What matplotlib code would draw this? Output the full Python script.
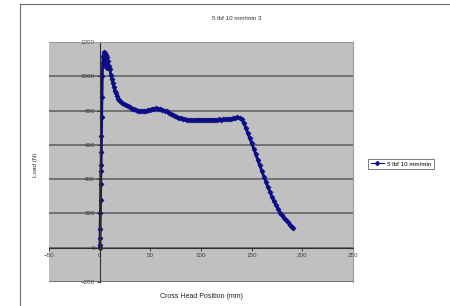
import matplotlib
matplotlib.use("Agg")
import matplotlib.pyplot as plt
from matplotlib.lines import Line2D

# ---------------------------------------------------------------
# Data
# ---------------------------------------------------------------
position_mm = [
    0, 0.2, 0.4, 0.5, 0.7, 0.9, 1.0, 1.2, 1.4, 1.6, 1.8, 2.0, 2.3, 2.6, 3.0,
    3.5, 4, 4.5, 5, 5.5, 6, 6.5, 7, 7.5, 8, 9, 10, 11, 12,
    13, 14, 15, 16, 17, 18, 19, 20, 22, 24, 26, 28, 30, 32, 34, 36, 38, 40,
    42, 44, 46, 48, 50, 52, 54, 56, 58, 60, 62, 64, 66, 68, 70, 72, 74, 76,
    78, 80, 82, 84, 86, 88, 90, 92, 94, 96, 98, 100, 102, 104, 106, 108, 110,
    112, 114, 116, 118, 120, 122, 124, 126, 128, 130, 132, 134, 136, 138, 140,
    142, 144, 146, 148, 150, 152, 154, 156, 158, 160, 162, 164, 166, 168, 170,
    172, 174, 176, 178, 180, 182, 184, 186, 188, 190, 191,
]
load_n = [
    0, 15, 55, 110, 200, 280, 370, 450, 480, 560, 650, 760, 880, 1000, 1080,
    1120, 1140, 1100, 1135, 1060, 1125, 1080, 1110, 1050, 1090, 1060, 1040, 1010, 985,
    960, 940, 915, 900, 885, 870, 862, 855, 845, 838, 830, 825, 818, 812, 808, 805, 800, 798,
    797, 798, 800, 803, 806, 810, 812, 813, 812, 810, 806, 800, 795, 788, 781, 774, 768, 762,
    758, 754, 751, 748, 746, 745, 744, 744, 745, 745, 746, 745, 746, 745, 746, 745, 746,
    747, 746, 747, 748, 747, 748, 749, 750, 750, 752, 755, 757, 760, 758, 750,
    730, 700, 670, 640, 610, 578, 545, 512, 480, 448, 415, 385, 355, 325, 298,
    272, 248, 225, 205, 188, 173, 160, 148, 135, 122, 115,
]
series_name = "5 lbf 10 mm/min"
chart_title = "5 lbf 10 mm/min 3"
x_ticks = [-50, 0, 50, 100, 150, 200, 250]
y_ticks = [-200, 0, 200, 400, 600, 800, 1000, 1200]

# ---------------------------------------------------------------
# Figure
# ---------------------------------------------------------------
plt.rcParams["font.family"] = ["Liberation Sans", "DejaVu Sans"]
fig = plt.figure(figsize=(4.5, 3.06), dpi=100)
ax = fig.add_axes([49 / 450, 1 - 282 / 306, 304 / 450, 240 / 306])

ax.set_facecolor("#c0c0c0")
ax.set_xlim(-50, 250)
ax.set_ylim(-200, 1200)
ax.set_xticks(x_ticks)
ax.set_yticks(y_ticks)

# horizontal gridlines
ax.yaxis.grid(True, color="#6a6a6a", linewidth=1.3)
ax.set_axisbelow(True)

# Excel-style axes crossing at zero
for side in ("top", "right"):
    ax.spines[side].set_color("#9a9a9a")
    ax.spines[side].set_linewidth(0.8)
ax.spines["left"].set_position(("data", 0))
ax.spines["bottom"].set_position(("data", 0))
ax.spines["left"].set_color("#303030")
ax.spines["bottom"].set_color("#303030")
ax.spines["left"].set_linewidth(0.8)
ax.spines["bottom"].set_linewidth(0.8)

ax.tick_params(axis="both", labelsize=4.5, colors="#303030", length=2,
               width=0.6, pad=1.5, direction="out")
ax.tick_params(axis="y", labelcolor="#404040")
ax.tick_params(axis="x", labelcolor="#404040")

ax.plot(position_mm, load_n, color="#0c0c86", linewidth=2.0,
        marker="D", markersize=2.7, markeredgewidth=0.3)

# axis labels / title in figure coordinates
fig.text(237 / 450, 1 - 18 / 306, chart_title, ha="center", va="center",
         fontsize=4.5, color="#303030")
fig.text(201 / 450, 1 - 296 / 306, "Cross Head Position (mm)", ha="center",
         va="center", fontsize=5, color="#202020")
fig.text(35 / 450, 1 - 165 / 306, "Load (N)", ha="center", va="center",
         fontsize=4.5, rotation=90, color="#303030")

# legend
handle = Line2D([], [], color="#0c0c86", linewidth=0.8, marker="D",
                markersize=2.0)
leg = fig.legend([handle], [series_name], loc="lower left",
                 bbox_to_anchor=(368 / 450, 1 - 169 / 306), fontsize=4.5,
                 frameon=True, fancybox=False, handlelength=2.2,
                 borderpad=0.4, handletextpad=0.4, borderaxespad=0)
leg.get_frame().set_edgecolor("#404040")
leg.get_frame().set_linewidth(0.6)

# outer chart area border
fig.add_artist(Line2D([20 / 450, 20 / 450], [0, 1 - 4 / 306],
                      transform=fig.transFigure, color="#707070", linewidth=0.8))
fig.add_artist(Line2D([20 / 450, 1], [1 - 4 / 306, 1 - 4 / 306],
                      transform=fig.transFigure, color="#707070", linewidth=0.8))

fig.savefig("out.png", dpi=100)
